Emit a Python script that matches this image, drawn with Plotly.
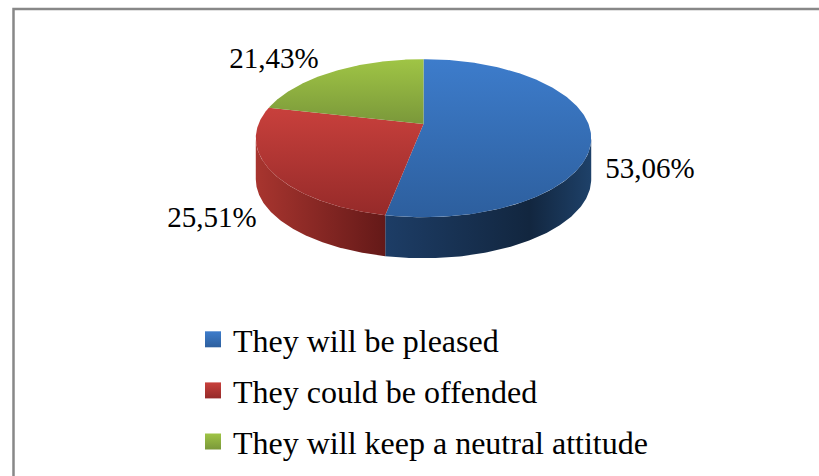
import numpy as np
import plotly.graph_objects as go

categories = ["They will be pleased", "They could be offended", "They will keep a neutral attitude"]
values = [53.06, 25.51, 21.43]
labels = ["53,06%", "25,51%", "21,43%"]
top_colors = [["#3d7ccb", "#2d5f9e"], ["#c8403c", "#952a29"], ["#9fc445", "#7a983a"]]
top_spans = [(60, 216), (108, 216), (60, 124)]
side_stops = [
    [[0, "#1d3d66"], [0.7, "#12263f"], [1, "#1e4169"]],
    [[0, "#a8352f"], [1, "#641918"]],
    [[0, "#5f7a2c"], [1, "#5f7a2c"]],
]
label_pos = [(650, 171), (212, 220), (274, 61)]

CX, CY, A, B, K, DEPTH = 423.5, 124.0, 165.0, 76.5, 0.1795, 41.0


def rim(t):
    u, v = np.sin(t), -np.cos(t)
    d = 1 - K * v
    return CX + A * u / d, CY + B * v / d


def silhouette():
    tt = np.linspace(0, 2 * np.pi, 7201)
    x, _ = rim(tt)
    return tt[np.argmax(x)], tt[np.argmin(x)]


T_R, T_L = silhouette()

fig = go.Figure()
edges = np.concatenate([[0], np.cumsum(values)]) / sum(values) * 2 * np.pi

for i, (name, c) in enumerate(zip(categories, top_colors)):
    lo, hi = max(edges[i], T_R), min(edges[i + 1], T_L)
    if hi > lo:
        t = np.linspace(lo, hi, 120)
        x, y = rim(t)
        sx = np.concatenate([x, x[::-1]])
        sy = np.concatenate([y, y[::-1] + DEPTH])
        fig.add_trace(go.Scatter(
            x=sx, y=sy, mode="lines", line=dict(width=0), fill="toself", showlegend=False, hoverinfo="skip",
            fillgradient=dict(type="horizontal", start=float(x.min()), stop=float(x.max()),
                              colorscale=side_stops[i]),
        ))

for i, (name, c) in enumerate(zip(categories, top_colors)):
    t = np.linspace(edges[i], edges[i + 1], 200)
    x, y = rim(t)
    fx = np.concatenate([[CX], x, [CX]])
    fy = np.concatenate([[CY], y, [CY]])
    fig.add_trace(go.Scatter(
        x=fx, y=fy, mode="lines", line=dict(width=0), fill="toself", showlegend=False, hoverinfo="skip",
        fillgradient=dict(type="vertical", start=top_spans[i][0], stop=top_spans[i][1],
                          colorscale=[[0, c[0]], [1, c[1]]]),
    ))

for i, (name, c) in enumerate(zip(categories, top_colors)):
    fig.add_trace(go.Scatter(
        x=[None], y=[None], mode="markers", name=name, legendgroup=name,
        marker=dict(symbol="square", size=16, color=c[0],
                    gradient=dict(type="vertical", color=c[1])),
    ))

fig.add_trace(go.Scatter(
    x=[p[0] for p in label_pos], y=[p[1] for p in label_pos], text=labels, mode="text",
    textposition="middle center", showlegend=False, hoverinfo="skip",
    textfont=dict(family="Liberation Serif", size=29, color="#000000"),
))

fig.update_layout(
    width=819, height=476, margin=dict(l=0, r=0, t=0, b=0, pad=0), autosize=False,
    paper_bgcolor="white", plot_bgcolor="white",
    xaxis=dict(range=[0, 819], visible=False, fixedrange=True),
    yaxis=dict(range=[476, 0], visible=False, fixedrange=True),
    legend=dict(x=193 / 819, y=1 - 312 / 476, xanchor="left", yanchor="top", tracegroupgap=6.5,
                font=dict(family="Liberation Serif", size=32, color="#000000"),
                bgcolor="rgba(0,0,0,0)", itemsizing="trace"),
    shapes=[dict(type="rect", xref="x", yref="y", x0=13.5, x1=840, y0=9, y1=520,
                 line=dict(color="#888888", width=2.5))],
)
fig.write_html("out.html", config=dict(displayModeBar=False),
               post_script="document.body.style.margin='0';")
